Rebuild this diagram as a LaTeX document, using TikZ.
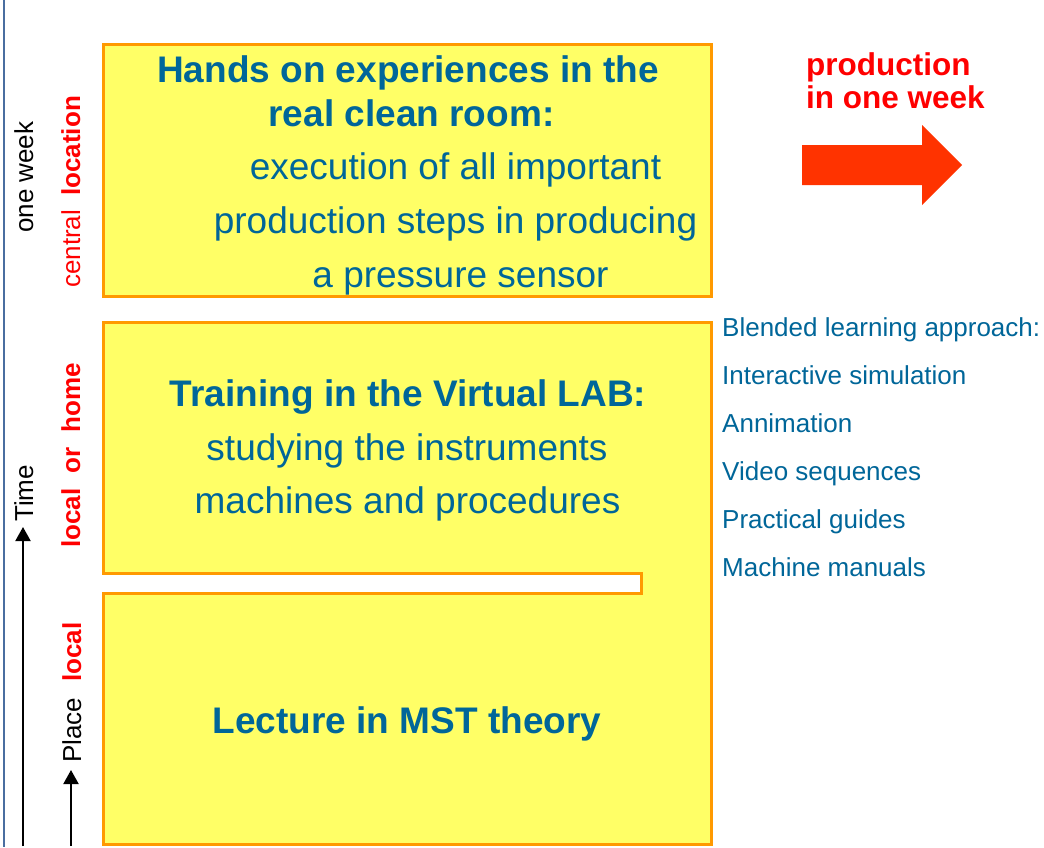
\documentclass[tikz,border=0pt]{standalone}
\usepackage{fontspec}
\setmainfont{Liberation Sans}
\usetikzlibrary{arrows.meta}
\definecolor{boxfill}{RGB}{255,255,102}
\definecolor{boxline}{RGB}{255,153,0}
\definecolor{txtblue}{RGB}{0,102,153}
\definecolor{lblred}{RGB}{255,0,0}
\definecolor{arrred}{RGB}{255,51,0}
\definecolor{sideblue}{RGB}{74,110,160}
\begin{document}
\begin{tikzpicture}[x=1pt,y=-1pt,
  big/.style={font=\fontsize{37}{44}\selectfont, text=txtblue, inner sep=0pt, anchor=base},
  bigb/.style={font=\fontsize{37}{44}\selectfont\bfseries, text=txtblue, inner sep=0pt, anchor=base},
  side/.style={font=\fontsize{26}{31}\selectfont, text=txtblue, inner sep=0pt, anchor=base west},
  vlab/.style={font=\fontsize{26}{31}\selectfont, inner sep=0pt, anchor=base west, rotate=90},
  vlabb/.style={font=\fontsize{26}{31}\selectfont\bfseries, inner sep=0pt, anchor=base west, rotate=90},
  redtitle/.style={font=\fontsize{31.5}{36}\selectfont\bfseries, text=lblred, inner sep=0pt, anchor=base west},
  panel/.style={fill=boxfill, draw=boxline, line width=3pt},
  axisarrow/.style={line width=2pt, -{Triangle[length=14pt,width=15pt]}}
]
\useasboundingbox (0,0) rectangle (1044,847);
\fill[white] (0,0) rectangle (1044,847);

% side blue line
\draw[sideblue, line width=2.5pt] (4,0) -- (4,847);

% top panel
\draw[panel] (103,44) rectangle (711,296);
% middle + bottom panel (joined on the right)
\draw[panel] (103,322) -- (711,322) -- (711,844) -- (103,844) -- (103,593)
  -- (641,593) -- (641,573) -- (103,573) -- cycle;

% top panel text
\node[bigb] (t1) at (408,82.5) {Hands on experiences in the};
\node[bigb] (t2) at (411.5,126.5) {real clean room:};
\node[big] (t3) at (455.5,179.5) {execution of all important};
\node[big] (t4) at (455.5,233) {production steps in producing};
\node[big] (t5) at (460.5,287) {a pressure sensor};

% middle panel text
\node[bigb] (m1) at (408,406.5) {Training in the Virtual LAB:};
\node[big] (m2) at (407,460) {studying the instruments};
\node[big] (m3) at (407.5,513) {machines and procedures};

% bottom panel text
\node[bigb] (b1) at (407,733) {Lecture in MST theory};

% right list
\node[side] (s1) at (722,336) {Blended learning approach:};
\node[side] (s2) at (722,384) {Interactive simulation};
\node[side] (s3) at (722,432) {Annimation};
\node[side] (s4) at (722,480) {Video sequences};
\node[side] (s5) at (722,528) {Practical guides};
\node[side] (s6) at (722,576.5) {Machine manuals};

% production arrow
\node[redtitle] (p1) at (806,75) {production};
\node[redtitle] (p2) at (806,108) {in one week};
\fill[arrred] (802,145) -- (922,145) -- (922,125) -- (962,165) -- (922,205)
  -- (922,185) -- (802,185) -- cycle;

% left labels
\node[vlab, text=black] (w1) at (33,233) {one week};
\node[vlab, text=lblred] (c1) at (80,288) {central\hspace{14pt}{\bfseries location}};
\node[vlabb, text=lblred] (l1) at (80,548) {local\hspace{15pt}or\hspace{15pt}home};
\node[vlab, text=black] (tm) at (33,522) {Time};
\node[vlab, text=black] (pl) at (81,763) {Place};
\node[vlabb, text=lblred] (lc) at (81,682) {local};

% time / place arrows
\coordinate (ta0) at (23,846);
\coordinate (ta1) at (23,527);
\coordinate (pa0) at (71,846);
\coordinate (pa1) at (71,770);
\draw[axisarrow] (ta0) -- (ta1);
\draw[axisarrow] (pa0) -- (pa1);
\end{tikzpicture}
\end{document}
